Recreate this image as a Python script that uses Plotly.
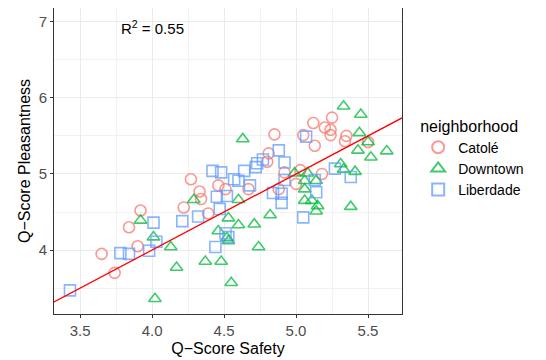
import numpy as np
import plotly.graph_objects as go

# ---- data ----
catole_safety = [3.65, 3.74, 3.84, 3.92, 3.90, 4.27, 4.33, 4.34, 4.22, 4.39, 4.46, 4.51, 4.67,
                 4.85, 4.81, 4.80, 5.05, 5.12, 5.20, 5.25, 5.24, 5.24, 5.35, 5.34, 5.50, 5.13,
                 4.92, 5.03, 5.00, 5.18, 4.88]
catole_pleas = [3.95, 3.70, 4.30, 4.52, 4.05, 4.93, 4.77, 4.67, 4.56, 4.48, 4.85, 4.80, 4.80,
                5.52, 5.27, 5.16, 5.51, 5.67, 5.61, 5.74, 5.58, 5.51, 5.50, 5.43, 5.42, 5.37,
                5.02, 5.05, 4.87, 5.00, 4.80]

downtown_safety = [4.63, 4.29, 3.92, 4.01, 4.13, 4.17, 4.37, 4.48, 4.55, 4.02, 4.53, 4.46, 4.52,
                   4.53, 4.60, 4.60, 4.82, 4.71, 4.74, 5.33, 5.45, 5.44, 5.50, 5.43, 5.52, 5.63,
                   5.31, 5.33, 5.41, 4.99, 5.08, 5.06, 5.14, 5.06, 5.06, 5.11, 5.15, 5.14, 5.38]
downtown_pleas = [5.46, 4.66, 4.39, 4.17, 4.04, 3.77, 3.85, 3.85, 3.57, 3.36, 4.42, 4.25, 4.16,
                  4.12, 4.33, 4.66, 4.46, 4.34, 4.04, 5.89, 5.78, 5.54, 5.42, 5.31, 5.22, 5.30,
                  5.13, 5.06, 5.03, 5.01, 5.01, 4.91, 4.91, 4.80, 4.65, 4.65, 4.58, 4.51, 4.57]

liberdade_safety = [3.43, 3.78, 3.84, 3.98, 4.01, 4.03, 4.21, 4.32, 4.42, 4.48, 4.45, 4.52, 4.47,
                    4.44, 4.51, 4.53, 4.57, 4.60, 4.64, 4.68, 4.72, 4.73, 4.77, 4.88, 4.92, 5.07,
                    4.92, 4.84, 4.90, 4.90, 5.13, 5.14, 5.05, 5.27, 5.38]
liberdade_pleas = [3.47, 3.96, 3.95, 3.99, 4.36, 4.11, 4.38, 4.44, 5.04, 5.02, 4.70, 4.71, 4.54,
                   4.04, 4.22, 4.17, 4.93, 4.91, 5.04, 4.85, 5.09, 5.14, 5.19, 5.31, 5.15, 5.49,
                   4.92, 4.75, 4.74, 4.62, 4.92, 4.76, 4.43, 5.07, 4.96]

# reference line y = slope * x + intercept (identity line)
ref_slope = 1.0
ref_intercept = 0.0

r2_label = "R<sup>2</sup> = 0.55"
x_ticks = [3.5, 4.0, 4.5, 5.0, 5.5]
y_ticks = [4, 5, 6, 7]

series = [
    ("Catolé", catole_safety, catole_pleas, "circle-open", "rgba(248,118,109,0.75)"),
    ("Downtown", downtown_safety, downtown_pleas, "triangle-up-open", "rgba(0,186,56,0.75)"),
    ("Liberdade", liberdade_safety, liberdade_pleas, "square-open", "rgba(97,156,255,0.75)"),
]

x_range = [3.319, 5.736]
y_range = [3.16, 7.18]

fig = go.Figure()
for name, xs, ys, sym, col in series:
    fig.add_trace(go.Scatter(
        x=xs, y=ys, mode="markers", name=name,
        marker=dict(symbol=sym, size=11, color=col, line=dict(width=1.6, color=col)),
    ))

lx = np.array(x_range)
fig.add_trace(go.Scatter(x=lx, y=ref_slope * lx + ref_intercept, mode="lines",
                         line=dict(color="red", width=1.3), showlegend=False, hoverinfo="skip"))

fig.add_annotation(x=4.0, y=6.93, xref="x", yref="y", text=r2_label, showarrow=False,
                   font=dict(size=15, color="black", family="Liberation Sans"))

axis_common = dict(
    showline=True, mirror=True, linecolor="#333333", linewidth=1,
    showgrid=True, gridcolor="#EBEBEB", gridwidth=1.1,
    ticks="outside", ticklen=3, tickcolor="#333333",
    tickfont=dict(size=15, color="#4D4D4D", family="Liberation Sans"),
    zeroline=False, automargin=False,
)
fig.update_xaxes(range=x_range, tickvals=x_ticks, ticktext=[f"{v:.1f}" for v in x_ticks],
                 minor=dict(dtick=0.25, tick0=3.25, showgrid=True, gridcolor="#F2F2F2", gridwidth=0.6, ticks=""),
                 title=dict(text="Q−Score Safety", font=dict(size=16, color="black", family="Liberation Sans"), standoff=4),
                 **axis_common)
fig.update_yaxes(range=y_range, tickvals=y_ticks, ticktext=[str(v) for v in y_ticks],
                 minor=dict(dtick=0.5, tick0=3.5, showgrid=True, gridcolor="#F2F2F2", gridwidth=0.6, ticks=""),
                 title=dict(text="Q−Score Pleasantness", font=dict(size=16, color="black", family="Liberation Sans"), standoff=4),
                 **axis_common)

# page has an 8px body margin, so the figure is drawn 8px smaller and shifted
fig.update_layout(
    width=538, height=352,
    margin=dict(l=46, r=144, t=0, b=46, autoexpand=False),
    plot_bgcolor="white", paper_bgcolor="white",
    font=dict(family="Liberation Sans"),
    legend=dict(
        title=dict(text="neighborhood", font=dict(size=16, color="black")),
        font=dict(size=14, color="black"),
        x=1.0465, y=0.664, xanchor="left", yanchor="top",
        itemsizing="constant", itemwidth=30, tracegroupgap=0,
        bgcolor="rgba(0,0,0,0)",
    ),
)

fig.write_html("out.html")
